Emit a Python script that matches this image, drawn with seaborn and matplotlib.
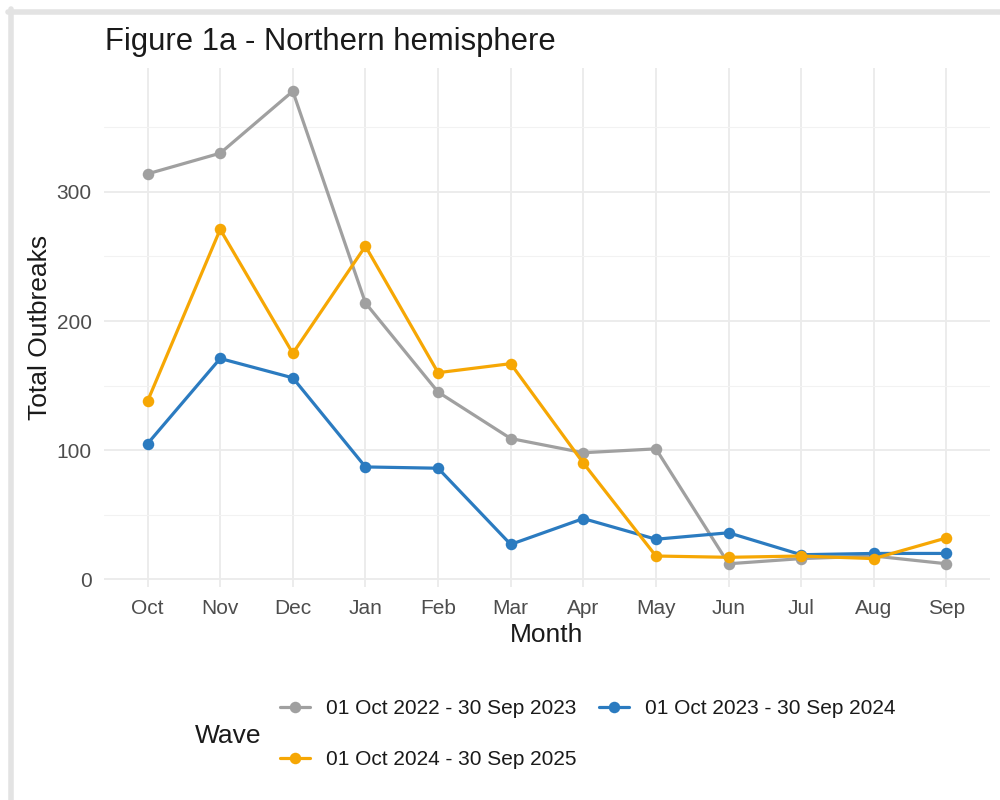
import matplotlib
matplotlib.use("Agg")
import matplotlib.pyplot as plt
from matplotlib.lines import Line2D
from matplotlib.ticker import MultipleLocator
import seaborn as sns
import pandas as pd

# Monthly outbreak totals per wave (Oct -> Sep)
months = ["Oct", "Nov", "Dec", "Jan", "Feb", "Mar", "Apr", "May", "Jun", "Jul", "Aug", "Sep"]
wave_labels = ["01 Oct 2022 - 30 Sep 2023", "01 Oct 2023 - 30 Sep 2024", "01 Oct 2024 - 30 Sep 2025"]
wave_2022 = [314, 330, 378, 214, 145, 109, 98, 101, 12, 16, 18, 12]
wave_2023 = [105, 171, 156, 87, 86, 27, 47, 31, 36, 19, 20, 20]
wave_2024 = [138, 271, 175, 258, 160, 167, 90, 18, 17, 18, 16, 32]
y_ticks = [0, 100, 200, 300]

colors = ["#A0A0A0", "#2B7BC0", "#F6A704"]

df = pd.concat([
    pd.DataFrame({"Month": months, "Total Outbreaks": vals, "Wave": lab})
    for lab, vals in zip(wave_labels, [wave_2022, wave_2023, wave_2024])
], ignore_index=True)

sns.set_theme(style="white")
plt.rcParams["font.family"] = ["Liberation Sans", "DejaVu Sans"]

fig = plt.figure(figsize=(10, 8), dpi=100)
ax = fig.add_axes([0.104, 1 - 0.587 / 0.8, 0.886, (0.587 - 0.068) / 0.8])

sns.lineplot(data=df, x="Month", y="Total Outbreaks", hue="Wave", hue_order=wave_labels,
             palette=colors, marker="o", markersize=8.3, markeredgewidth=0, linewidth=2.3,
             sort=False, ax=ax, legend=False)

ax.set_xlim(-0.6, len(months) - 1 + 0.6)
ax.set_ylim(-6, 396)
ax.set_yticks(y_ticks)
ax.yaxis.set_minor_locator(MultipleLocator(50))
ax.grid(which="major", color="#EBEBEB", linewidth=1.3)
ax.grid(which="minor", axis="y", color="#F2F2F2", linewidth=0.8)
ax.set_axisbelow(True)
for s in ax.spines.values():
    s.set_visible(False)
ax.tick_params(axis="x", which="both", length=0, labelsize=15, labelcolor="#4D4D4D", pad=9)
ax.tick_params(axis="y", which="both", length=0, labelsize=15, labelcolor="#4D4D4D", pad=9)
ax.set_xlabel("Month", fontsize=19, color="#1A1A1A", labelpad=3)
ax.set_ylabel("Total Outbreaks", fontsize=19, color="#1A1A1A", labelpad=3)

fig.text(0.105, 0.948, "Figure 1a - Northern hemisphere", fontsize=22.3, color="#1A1A1A", va="center")

# Legend below the plot: title on the left, entries in two rows
handles = [Line2D([0], [0], color=c, marker="o", markersize=8.3, markeredgewidth=0, linewidth=2.3)
           for c in colors]
order = [0, 2, 1]
leg = fig.legend([handles[i] for i in order], [wave_labels[i] for i in order],
                 ncol=2, loc="center left", bbox_to_anchor=(0.280, 1 - 734 / 800),
                 bbox_transform=fig.transFigure, frameon=False, fontsize=15,
                 handlelength=1.45, handletextpad=0.75, columnspacing=1.1,
                 labelspacing=1.55, borderpad=0, borderaxespad=0)
for t in leg.get_texts():
    t.set_color("#1A1A1A")
fig.text(0.195, 1 - 736 / 800, "Wave", fontsize=19, color="#1A1A1A", va="center")

# Light grey frame along the top and left edges
fig.add_artist(Line2D([0.008, 1.0], [1 - 11.5 / 800] * 2, transform=fig.transFigure,
                      color="#E3E3E3", linewidth=4))
fig.add_artist(Line2D([0.0105] * 2, [0, 1 - 9 / 800], transform=fig.transFigure,
                      color="#E3E3E3", linewidth=4))

fig.savefig("out.png", dpi=100, facecolor="white")
